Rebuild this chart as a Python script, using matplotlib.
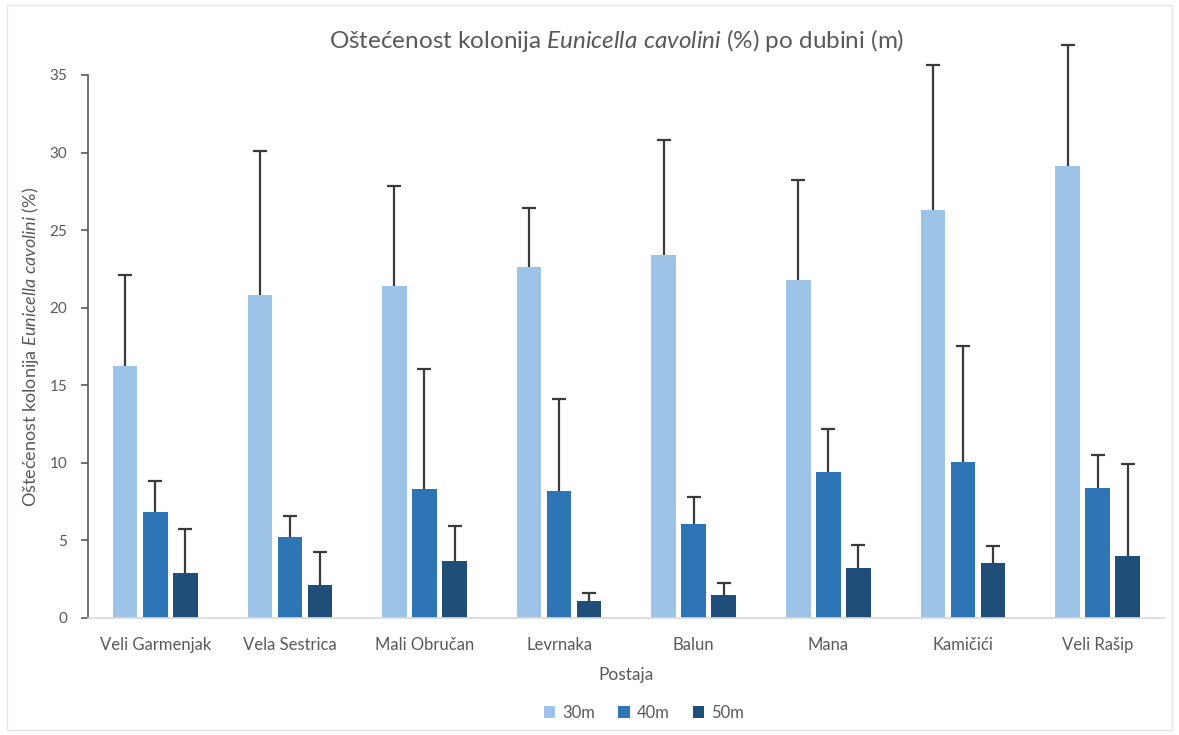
import numpy as np
import matplotlib.pyplot as plt
from matplotlib.patches import Rectangle

# podaci
postaje = ["Veli Garmenjak", "Vela Sestrica", "Mali Obručan", "Levrnaka",
           "Balun", "Mana", "Kamičići", "Veli Rašip"]
dubine = ["30m", "40m", "50m"]

m30 = [16.25, 20.8, 21.4, 22.6, 23.4, 21.8, 26.3, 29.15]
m40 = [6.8, 5.2, 8.3, 8.2, 6.05, 9.4, 10.05, 8.35]
m50 = [2.9, 2.1, 3.7, 1.12, 1.5, 3.2, 3.55, 4.0]

# gornji rub error bara (srednja vrijednost + SD)
top30 = [22.1, 30.1, 27.85, 26.4, 30.8, 28.2, 35.65, 36.9]
top40 = [8.83, 6.6, 16.05, 14.14, 7.8, 12.2, 17.5, 10.5]
top50 = [5.76, 4.25, 5.9, 1.59, 2.25, 4.7, 4.65, 9.93]

boje = ["#9DC3E6", "#2E75B6", "#1F4E79"]
siva = "#595959"

plt.rcParams['font.family'] = ['Lato', 'DejaVu Sans']
plt.rcParams['mathtext.fontset'] = 'custom'
plt.rcParams['mathtext.rm'] = 'Lato'
plt.rcParams['mathtext.it'] = 'Lato:italic'

fig = plt.figure(figsize=(11.79, 7.35), dpi=100)
ax = fig.add_axes([0.0746, 0.1592, 0.9134, 0.7388])

x = np.arange(len(postaje))
w = 0.182
korak = 0.223

for i, (vals, tops) in enumerate([(m30, top30), (m40, top40), (m50, top50)]):
    xs = x + (i - 1) * korak
    ax.bar(xs, vals, width=w, color=boje[i], label=dubine[i], zorder=2)
    # samo gornji dio error bara
    ax.vlines(xs, vals, tops, color='#3a3a3a', linewidth=1.6, zorder=3,
              clip_on=False)
    ax.plot(xs, tops, linestyle='none', marker='_', markersize=10,
            markeredgewidth=1.6, color='#3a3a3a', zorder=3, clip_on=False)

ax.set_xlim(-0.5, len(postaje) - 0.5)
ax.set_ylim(0, 35)
ax.set_yticks(range(0, 36, 5))
ax.set_xticks(x)
ax.set_xticklabels(postaje)

for s in ['top', 'right']:
    ax.spines[s].set_visible(False)
ax.spines['left'].set_color(siva)
ax.spines['left'].set_linewidth(1.2)
ax.spines['bottom'].set_color('#d9d9d9')
ax.spines['bottom'].set_linewidth(1.2)
ax.tick_params(axis='y', direction='out', length=5, width=1.2, color=siva,
               labelsize=11, labelcolor=siva, pad=10)
ax.tick_params(axis='x', length=0, labelsize=12, labelcolor=siva, pad=14)

ax.set_xlabel("Postaja", fontsize=12.5, color=siva, labelpad=10)
ax.set_ylabel(r"Oštećenost kolonija $\mathit{Eunicella\ cavolini}$ (%)",
              fontsize=13, color=siva, labelpad=6)

fig.text(0.523, 0.945,
         r"Oštećenost kolonija $\mathit{Eunicella\ cavolini}$ (%) po dubini (m)",
         ha='center', va='center', fontsize=17.5, color=siva)

leg = ax.legend(loc='center', bbox_to_anchor=(0.546, 0.03),
                bbox_transform=fig.transFigure, ncol=3, frameon=False,
                fontsize=12, handlelength=0.7, handleheight=0.7,
                columnspacing=1.4, handletextpad=0.4)
for t in leg.get_texts():
    t.set_color(siva)

fig.patches.append(Rectangle((0.006, 0.007), 0.988, 0.986,
                             transform=fig.transFigure, fill=False,
                             edgecolor='#e6e6e6', linewidth=1))

fig.savefig("out.png", dpi=100)
